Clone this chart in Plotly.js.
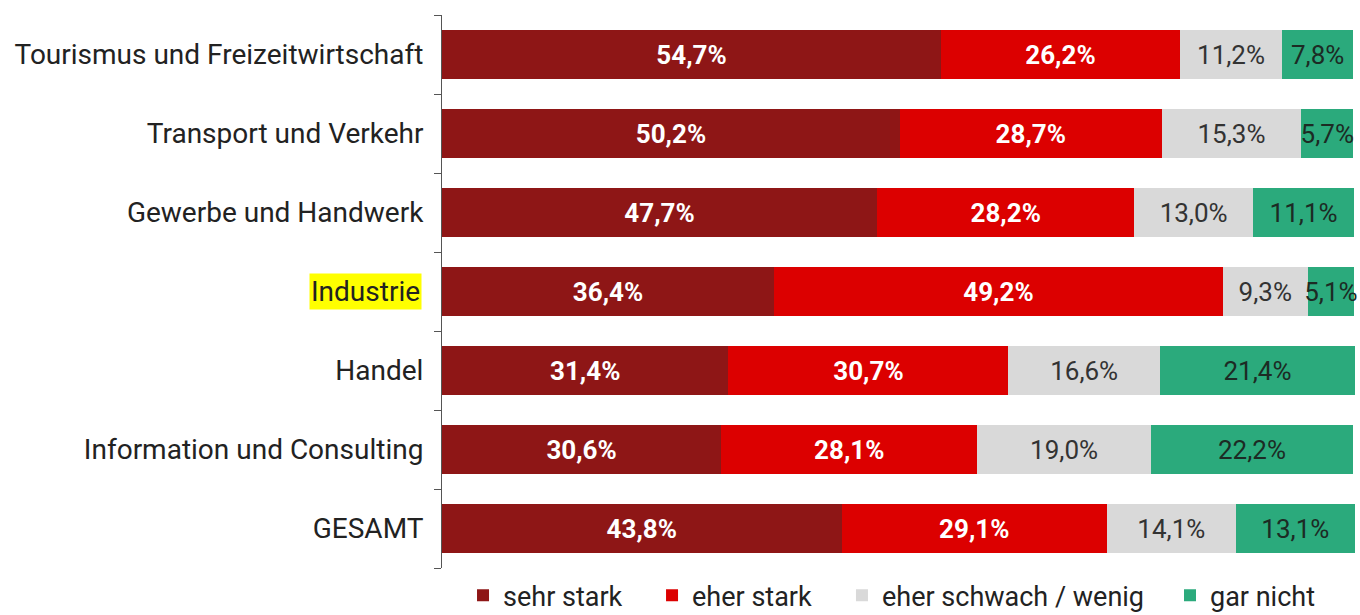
<!DOCTYPE html>
<html>
<head>
<meta charset="utf-8">
<script src="https://cdn.plot.ly/plotly-3.0.1.min.js"></script>
<style>html,body{margin:0;padding:0;background:#fff;}#chart{width:1360px;height:615px;}</style>
</head>
<body>
<div id="chart"></div>
<script>
const categories = ["Tourismus und Freizeitwirtschaft", "Transport und Verkehr", "Gewerbe und Handwerk", "Industrie", "Handel", "Information und Consulting", "GESAMT"];
const highlighted = "Industrie";
const seriesNames = ["sehr stark", "eher stark", "eher schwach / wenig", "gar nicht"];
const sehrStark = [54.7, 50.2, 47.7, 36.4, 31.4, 30.6, 43.8];
const eherStark = [26.2, 28.7, 28.2, 49.2, 30.7, 28.1, 29.1];
const eherSchwach = [11.2, 15.3, 13.0, 9.3, 16.6, 19.0, 14.1];
const garNicht = [7.8, 5.7, 11.1, 5.1, 21.4, 22.2, 13.1];

const seriesValues = [sehrStark, eherStark, eherSchwach, garNicht];
const barColors = ["#8E1616", "#DC0000", "#D9D9D9", "#2BAA7C"];
const textColors = ["#FFFFFF", "#FFFFFF", "#333333", "#1c2b24"];
const textWeights = [700, 700, 400, 400];
const legendIds = ['legend', 'legend2', 'legend3', 'legend4'];
const legendX = [0.023, 0.2298, 0.4376, 0.7965];
const FONT = "Roboto, 'DejaVu Sans', sans-serif";

const fmt = v => v.toFixed(1).replace('.', ',') + '%';

const traces = seriesValues.map((vals, i) => ({
  type: 'bar',
  orientation: 'h',
  name: seriesNames[i],
  legend: legendIds[i],
  y: categories,
  x: vals,
  text: vals.map(fmt),
  textposition: 'inside',
  insidetextanchor: 'middle',
  textangle: 0,
  constraintext: 'none',
  cliponaxis: false,
  insidetextfont: {family: FONT, size: 26, color: textColors[i], weight: textWeights[i]},
  marker: {color: barColors[i], line: {width: 0}},
  hoverinfo: 'skip'
}));

const layout = {
  width: 1360,
  height: 615,
  margin: {l: 442, r: 4, t: 15, b: 47, pad: 0, autoexpand: false},
  paper_bgcolor: '#ffffff',
  plot_bgcolor: '#ffffff',
  barmode: 'stack',
  bargap: 0.39,
  font: {family: FONT, size: 28, color: '#222'},
  uniformtext: {mode: 'show', minsize: 26},
  xaxis: {
    range: [0, 100.2],
    visible: false,
    fixedrange: true
  },
  yaxis: {
    type: 'category',
    categoryorder: 'array',
    categoryarray: categories,
    autorange: 'reversed',
    automargin: false,
    tickvals: categories,
    ticktext: categories.map(c => c === highlighted ? ' ' : c),
    showline: true,
    linecolor: '#555',
    linewidth: 1,
    ticks: 'outside',
    tickson: 'boundaries',
    ticklen: 7,
    tickcolor: '#555',
    ticklabelstandoff: 12,
    tickfont: {family: FONT, size: 28, color: '#222', weight: 400},
    showgrid: false,
    zeroline: false,
    fixedrange: true
  },
  annotations: [{
    xref: 'paper', yref: 'y',
    x: 0, y: highlighted,
    xanchor: 'right', yanchor: 'middle',
    xshift: -20,
    text: highlighted,
    showarrow: false,
    bgcolor: '#FFFF00',
    borderpad: 1,
    font: {family: FONT, size: 28, color: '#222', weight: 400}
  }],
  showlegend: true
};

legendIds.forEach((id, i) => {
  layout[id] = {
    orientation: 'h',
    x: legendX[i], xanchor: 'left',
    y: -0.05, yanchor: 'middle',
    font: {family: FONT, size: 27, color: '#222'},
    itemwidth: 30,
    bgcolor: 'rgba(0,0,0,0)'
  };
});

Plotly.newPlot('chart', traces, layout, {displayModeBar: false, staticPlot: true});
</script>
</body>
</html>
